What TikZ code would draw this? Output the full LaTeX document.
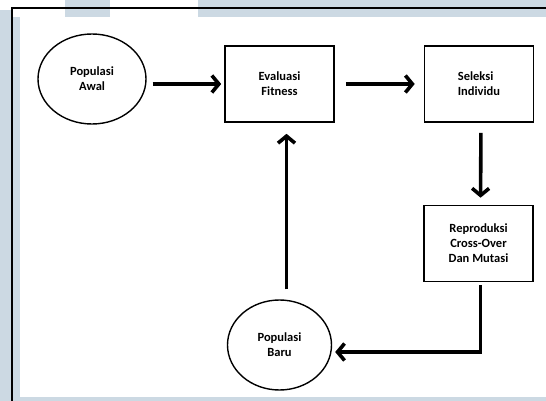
\documentclass[tikz,border=0pt]{standalone}
\usepackage{fontspec}
\setmainfont{Carlito}
\usepackage{xcolor}
\usetikzlibrary{arrows.meta}
\usetikzlibrary{shapes.geometric}
\definecolor{fondbleu}{HTML}{CCD9E3}

\begin{document}
\begin{tikzpicture}[x=1pt,y=-1pt,
    boite/.style={draw, line width=1.6pt, minimum width=109pt, minimum height=76pt, inner sep=0pt, align=center, font=\bfseries\fontsize{12.5}{15}\selectfont},
    popu/.style={draw, ellipse, line width=1.4pt, minimum width=108pt, minimum height=90pt, inner sep=0pt, align=center, font=\bfseries\fontsize{12.5}{15}\selectfont},
    flux/.style={line width=3.6pt, -{Straight Barb[length=7pt,width=17pt]}}]
    \useasboundingbox (0,0) rectangle (546,401);
    % fond bleu
    \fill[fondbleu] (0,0) rectangle (546,401);
    \fill[white] (20,17) rectangle (546,397);
    \fill[white] (0,0) rectangle (65,10);
    \fill[white] (12,10) rectangle (65,17);
    \fill[white] (110,0) rectangle (198,17);
    \draw[line width=1.2pt] (12,401) -- (12,8) -- (546,8);
    % les noeuds
    \node[popu] (awal) at (92,79) {Populasi\\Awal};
    \node[boite] (eval) at (279.5,84) {Evaluasi\\Fitness};
    \node[boite, align=left] (sel) at (479,84) {Seleksi\\Individu};
    \node[boite] (rep) at (478.5,243.5) {Reproduksi\\Cross-Over\\Dan Mutasi};
    \node[popu, minimum width=104pt] (baru) at (279.5,345) {Populasi\\Baru};
    % les fl\`eches
    \draw[flux, shorten <=6pt, shorten >=3pt] (awal.east |- eval) -- (eval.west);
    \draw[flux, shorten <=11pt, shorten >=9pt] (eval.east) -- (sel.west);
    \draw[flux, shorten <=10pt, shorten >=7pt] ([xshift=2pt]sel.south) -- ([xshift=2pt]rep.north);
    \draw[flux, shorten <=3pt, shorten >=3pt] ([xshift=2pt]rep.south) |- ([yshift=-7pt]baru.east);
    \draw[flux, shorten <=10pt, shorten >=11pt] ([xshift=7pt]baru.north) -- ([xshift=7pt]eval.south);
\end{tikzpicture}
\end{document}
